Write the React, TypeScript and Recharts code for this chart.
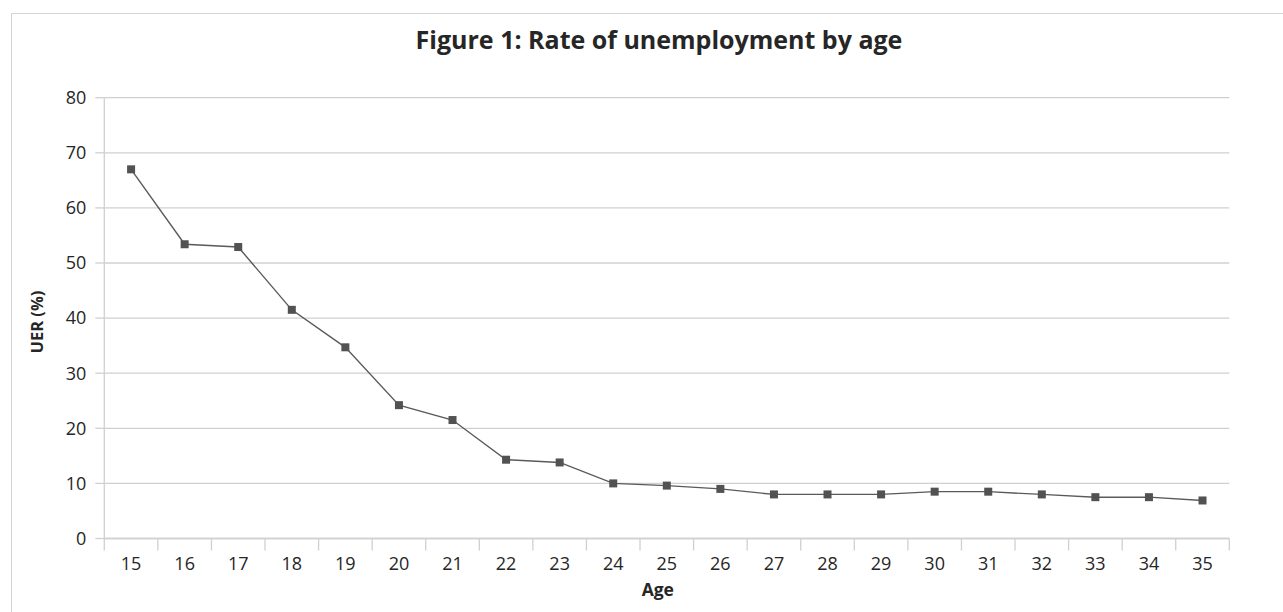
import React from 'react';
import { LineChart, Line, XAxis, YAxis, CartesianGrid, Label } from 'recharts';

const ages = [15, 16, 17, 18, 19, 20, 21, 22, 23, 24, 25, 26, 27, 28, 29, 30, 31, 32, 33, 34, 35];
const uer = [67.0, 53.4, 52.9, 41.5, 34.7, 24.2, 21.5, 14.3, 13.8, 10.0, 9.6, 9.0, 8.0, 8.0, 8.0, 8.5, 8.5, 8.0, 7.5, 7.5, 6.9];
const yTicks = [0, 10, 20, 30, 40, 50, 60, 70, 80];
const title = 'Figure 1: Rate of unemployment by age';
const xTitle = 'Age';
const yTitle = 'UER (%)';

const data = ages.map((a, i) => ({ age: a, uer: uer[i] }));
// category boundaries (half-way between ages) plus category centres
const xTicks: number[] = [];
ages.forEach((a, i) => {
  if (i === 0) xTicks.push(a - 0.5);
  xTicks.push(a);
  xTicks.push(a + 0.5);
});

const FONT = '"Open Sans", "Noto Sans", sans-serif';
const GRID = '#d0d0d0';
const TEXT = '#262626';
const TICK_SIZE = 12;
const TICK_MARGIN = 7;

const XTick = (props: any) => {
  const { x, y, payload } = props;
  const v = payload.value;
  if (Math.abs(v % 1) > 0.01) {
    const y1 = y - TICK_SIZE - TICK_MARGIN;
    return <line x1={x} x2={x} y1={y1} y2={y1 + TICK_SIZE} stroke={GRID} strokeWidth={1.3} />;
  }
  return (
    <text x={x} y={y} dy="0.71em" textAnchor="middle" fontFamily={FONT} fontSize={18} fill={TEXT}>
      {v}
    </text>
  );
};

const Square = (props: any) => {
  const { cx, cy, index } = props;
  if (cx == null || cy == null) return <g key={index} />;
  return <rect key={index} x={cx - 4} y={cy - 4} width={8} height={8} fill="#525252" />;
};

export default function App() {
  return (
    <div style={{ position: 'absolute', left: 0, top: 0, width: 1283, height: 612, overflow: 'hidden', background: '#fff' }}>
      <div
        style={{
          position: 'absolute',
          left: 11,
          top: 13,
          width: 1400,
          height: 700,
          borderTop: '1.5px solid #d4d4d4',
          borderLeft: '1.5px solid #d4d4d4',
        }}
      />
      <div
        style={{
          position: 'absolute',
          left: 0,
          width: 1318,
          top: 23.6,
          textAlign: 'center',
          fontFamily: FONT,
          fontWeight: 700,
          fontSize: 25,
          color: TEXT,
          lineHeight: '30px',
          whiteSpace: 'nowrap',
        }}
      >
        {title}
      </div>
      <div style={{ position: 'absolute', left: 0, top: 0 }}>
        <LineChart
          width={1283}
          height={612}
          data={data}
          margin={{ top: 97.7, right: 53.7, bottom: 0, left: 44.3 }}
        >
          <CartesianGrid horizontal vertical={false} stroke={GRID} strokeWidth={1.3} />
          <XAxis
            dataKey="age"
            type="number"
            domain={[14.5, 35.5]}
            ticks={xTicks}
            interval={0}
            allowDecimals
            height={73.5}
            tickLine={false}
            tickSize={TICK_SIZE}
            tickMargin={TICK_MARGIN}
            axisLine={{ stroke: GRID, strokeWidth: 1.3 }}
            tick={<XTick />}
          >
            <Label
              content={(p: any) => {
                const vb = p.viewBox || {};
                return (
                  <text
                    x={vb.x + vb.width / 2 - 9}
                    y={590}
                    dy="0.35em"
                    textAnchor="middle"
                    fontFamily={FONT}
                    fontWeight={700}
                    fontSize={17.5}
                    fill={TEXT}
                  >
                    {xTitle}
                  </text>
                );
              }}
            />
          </XAxis>
          <YAxis
            type="number"
            domain={[0, 80]}
            ticks={yTicks}
            interval={0}
            width={60}
            tickSize={9}
            tickMargin={9}
            tickLine={{ stroke: GRID, strokeWidth: 1.3 }}
            axisLine={{ stroke: GRID, strokeWidth: 1.3 }}
            tick={{ fontFamily: FONT, fontSize: 18, fill: TEXT }}
          >
            <Label
              content={(p: any) => {
                const vb = p.viewBox || {};
                const cx = 37;
                const cy = vb.y + vb.height / 2 + 4;
                return (
                  <text
                    x={cx}
                    y={cy}
                    dy="0.35em"
                    transform={`rotate(-90 ${cx} ${cy})`}
                    textAnchor="middle"
                    fontFamily={FONT}
                    fontWeight={700}
                    fontSize={16.5}
                    fill={TEXT}
                  >
                    {yTitle}
                  </text>
                );
              }}
            />
          </YAxis>
          <Line
            type="linear"
            dataKey="uer"
            stroke="#5a5a5a"
            strokeWidth={1.4}
            dot={<Square />}
            activeDot={false}
            isAnimationActive={false}
          />
        </LineChart>
      </div>
    </div>
  );
}
